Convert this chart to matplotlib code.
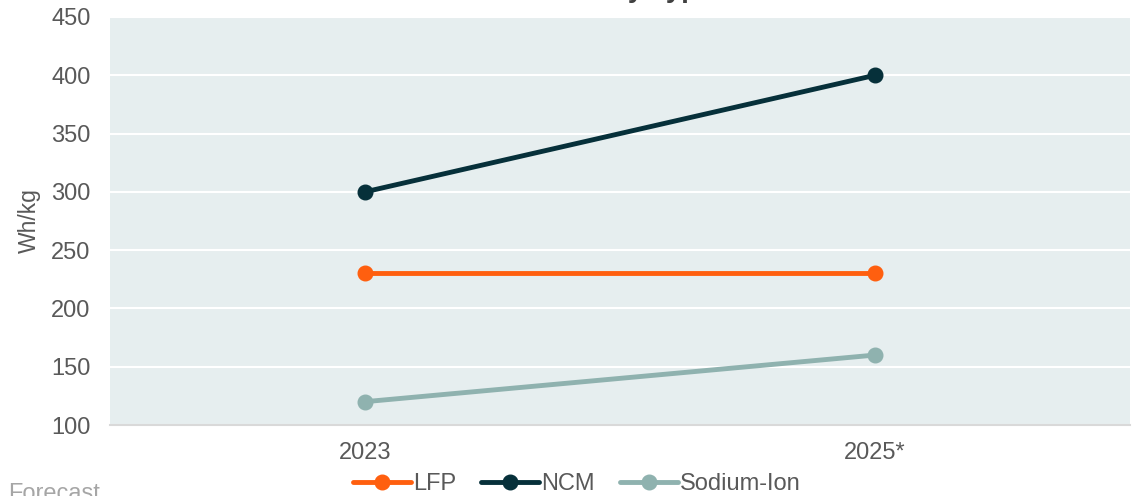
import matplotlib
matplotlib.use("Agg")
import matplotlib.pyplot as plt

plt.rcParams['font.family'] = ['Liberation Sans', 'DejaVu Sans']

years = ["2023", "2025*"]
lfp = [230, 230]
ncm = [300, 400]
sodium_ion = [120, 160]

series = [
    ("LFP", lfp, "#FF5F0F"),
    ("NCM", ncm, "#06303A"),
    ("Sodium-Ion", sodium_ion, "#8FB2AF"),
]

W, H = 1135, 496
fig = plt.figure(figsize=(W / 100, H / 100), dpi=100)
ax = fig.add_axes([110 / W, 1 - 425 / H, (1130 - 110) / W, (425 - 17) / H])

ax.set_facecolor("#E6EEEF")
x = list(range(len(years)))
for name, vals, col in series:
    ax.plot(x, vals, color=col, lw=3.5, marker="o", ms=10.5, label=name,
            solid_capstyle="round")

ax.set_xlim(-0.5, len(years) - 0.5)
ax.set_ylim(100, 450)
ax.set_yticks(range(100, 451, 50))
ax.set_xticks(x)
ax.set_xticklabels(years)
ax.grid(axis="y", color="white", lw=1.5)
ax.set_axisbelow(True)
for s in ["top", "right", "left"]:
    ax.spines[s].set_visible(False)
ax.spines["bottom"].set_color("#D9D9D9")
ax.spines["bottom"].set_linewidth(1.5)
ax.tick_params(axis="both", length=0, colors="#595959", labelsize=17)
ax.tick_params(axis="y", pad=14)
ax.tick_params(axis="x", pad=12)
ax.set_ylabel("Wh/kg", color="#595959", fontsize=16.5)
ax.yaxis.set_label_coords((41 - 110) / (1130 - 110), 0.5)

leg = fig.legend(loc="center", bbox_to_anchor=(577 / W, 1 - 484 / H), ncol=3,
                 frameon=False, fontsize=17, handlelength=2.45,
                 columnspacing=1.05, handletextpad=0.1, labelcolor="#595959",
                 borderpad=0)

fig.text(662 / W, 1 + 3 / H, "Battery Energy Density\nby Type", ha="center",
         va="baseline", fontsize=20, fontweight="bold", color="#404040",
         linespacing=1.2)
fig.text(8 / W, 1 - 500 / H, "Forecast", ha="left", va="baseline",
         fontsize=17, color="#A6A6A6")

fig.savefig("out.png", dpi=100)
